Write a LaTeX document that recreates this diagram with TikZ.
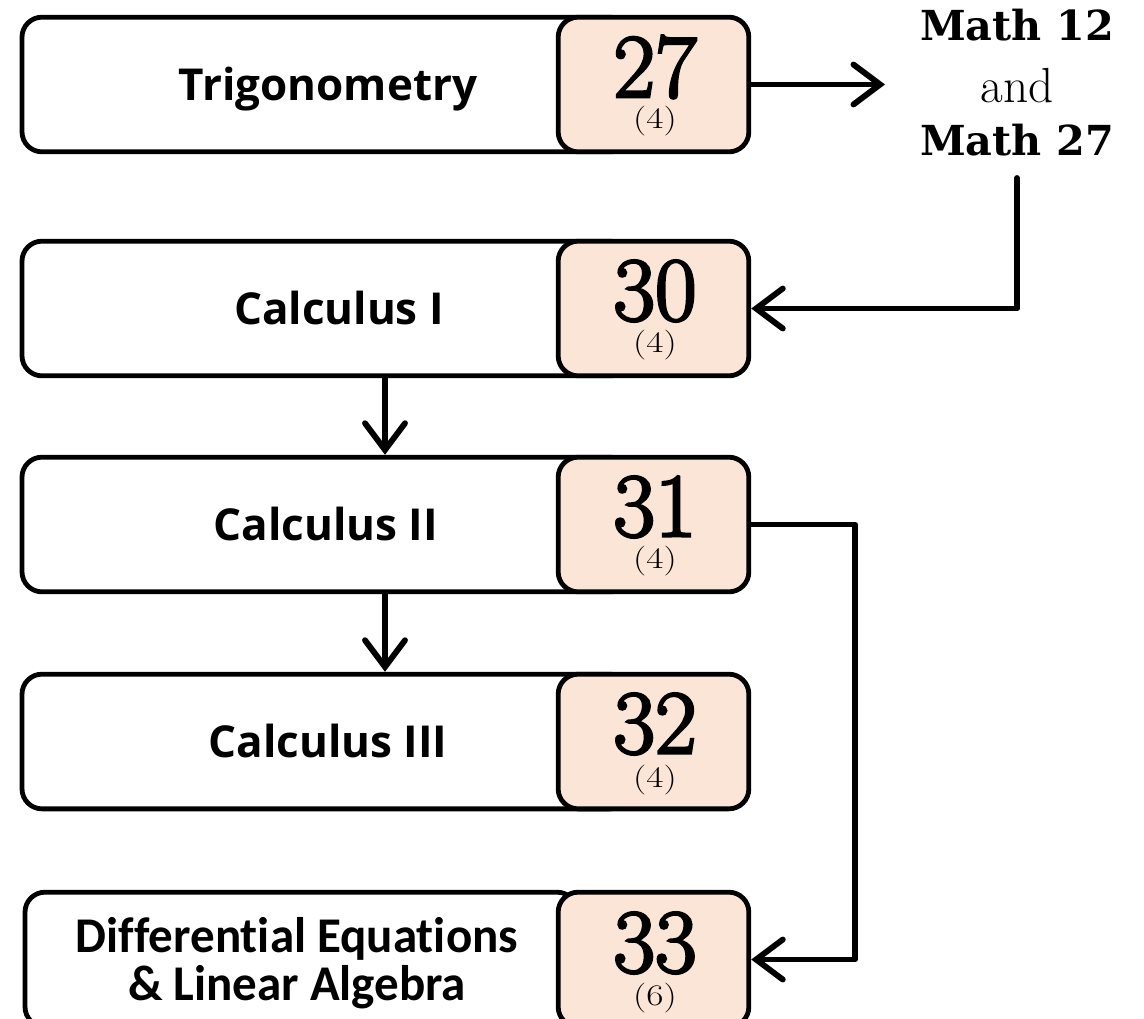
\documentclass[tikz,border=0pt]{standalone}
\usepackage{fontspec}
\newfontfamily\labelfont{Open Sans}
\newfontfamily\defont{Carlito}[Ligatures=NoCommon]
\newfontfamily\slabfont{DejaVu Serif}
\newfontfamily\numfont{Latin Modern Roman}[FakeBold=3]
\usetikzlibrary{arrows.meta}
\definecolor{peach}{RGB}{251,229,214}
\begin{document}
\begin{tikzpicture}[x=0.75pt,y=-0.75pt,
  course/.style={draw, line width=3.6pt, rounded corners=15pt, fill=white,
    minimum width=456pt, minimum height=101pt, inner sep=0pt},
  clabel/.style={anchor=base, inner sep=0pt,
    font=\labelfont\bfseries\fontsize{33}{40}\selectfont},
  dlabel/.style={anchor=base, inner sep=0pt,
    font=\defont\bfseries\fontsize{37.5}{40}\selectfont},
  numbox/.style={draw, line width=3.6pt, rounded corners=15pt, fill=peach,
    minimum width=143pt, minimum height=101pt, inner sep=0pt},
  num/.style={font=\numfont\fontsize{68}{68}\selectfont, inner sep=0pt},
  cred/.style={font=\fontsize{28}{28}\selectfont, inner sep=0pt},
  mathb/.style={anchor=base, inner sep=0pt, font=\slabfont\bfseries\fontsize{31}{36}\selectfont},
  mathr/.style={anchor=base, inner sep=0pt, font=\fontsize{37}{44}\selectfont},
  conn/.style={line width=4.4pt, line cap=round, line join=round,
    -{Straight Barb[length=20pt,width=30pt,line cap=round]}}
]
\useasboundingbox (0,0) rectangle (1144,1018);

% course boxes
\node[course] (w1) at (326,84.5) {};
\node[course] (w2) at (326,308.5) {};
\node[course] (w3) at (326,524.5) {};
\node[course] (w4) at (326,741.5) {};
\node[course, minimum width=414pt] (w5) at (301,959.5) {};

\node[clabel] (t1) at (328,100) {Trigonometry};
\node[clabel] (t2) at (339,324) {Calculus I};
\node[clabel] (t3) at (326,540) {Calculus II};
\node[clabel] (t4) at (328,757) {Calculus III};
\node[dlabel] (t5a) at (297,952) {\scalebox{0.98}[1]{Differential Equations}};
\node[dlabel] (t5b) at (297,1000) {\scalebox{0.98}[1]{\& Linear Algebra}};

% number boxes
\node[numbox] (o1) at (653.5,84.5) {};
\node[numbox] (o2) at (653.5,308.5) {};
\node[numbox] (o3) at (653.5,524.5) {};
\node[numbox] (o4) at (653.5,741.5) {};
\node[numbox] (o5) at (653.5,959.5) {};

\node[num] (n1) at (655,67) {27};
\node[cred] (c1) at (655,121) {\scalebox{1}[0.8]{(4)}};
\node[num] (n2) at (655,291) {30};
\node[cred] (c2) at (655,345) {\scalebox{1}[0.8]{(4)}};
\node[num] (n3) at (655,507) {31};
\node[cred] (c3) at (655,561) {\scalebox{1}[0.8]{(4)}};
\node[num] (n4) at (655,724) {32};
\node[cred] (c4) at (655,780) {\scalebox{1}[0.8]{(4)}};
\node[num] (n5) at (655,943) {33};
\node[cred] (c5) at (655,998) {\scalebox{1}[0.8]{(6)}};

% prerequisite text
\node[mathb] (m1) at (1017,40) {Math 12};
\node[mathr] (m2) at (1017,102) {and};
\node[mathb] (m3) at (1017,155) {Math 27};
\coordinate (mtip) at (885,0);
\coordinate (mbot) at (1017,178);

% connectors
\coordinate (vx) at (385,0);
\coordinate (c31) at (855,524.5);
\draw[conn] (o1.east) -- (o1.east -| mtip);
\draw[conn] (mbot) |- (o2.east);
\draw[conn] (vx |- w2.south) -- (vx |- w3.north);
\draw[conn] (vx |- w3.south) -- (vx |- w4.north);
\draw[conn] (o3.east) -- (c31) |- (o5.east);
\end{tikzpicture}
\end{document}
